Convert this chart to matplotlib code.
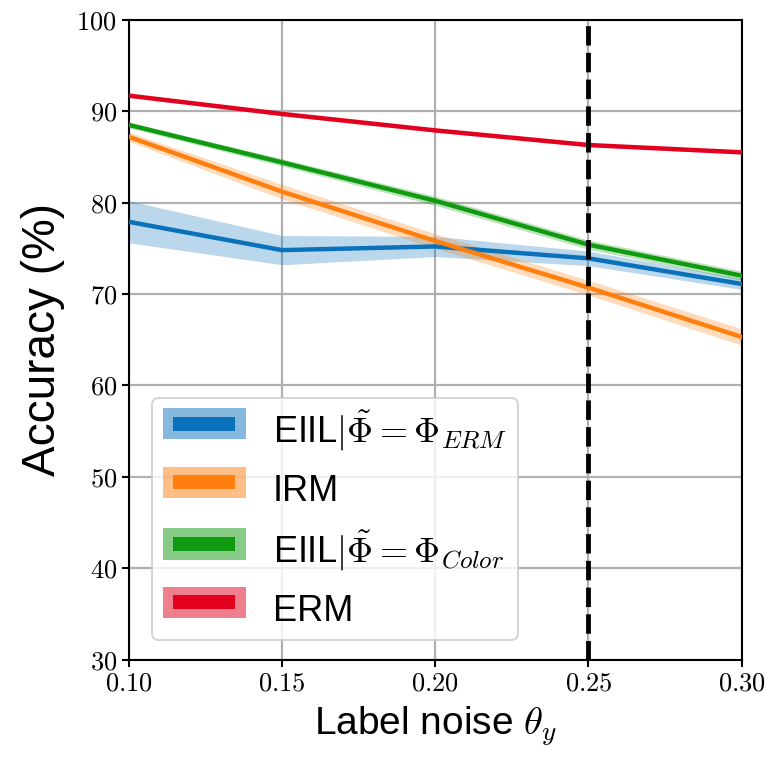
import numpy as np
import matplotlib
matplotlib.use("Agg")
import matplotlib.pyplot as plt
from matplotlib.patches import Rectangle

# ==== DATA ====
noise = [0.10, 0.15, 0.20, 0.25, 0.30]

eiil_erm = [77.9, 74.8, 75.2, 73.9, 71.1]
eiil_erm_sd = [2.3, 1.6, 1.1, 0.8, 0.6]

irm = [87.2, 81.2, 75.8, 70.7, 65.3]
irm_sd = [0.5, 0.8, 0.8, 0.8, 0.9]

eiil_color = [88.5, 84.4, 80.2, 75.4, 72.0]
eiil_color_sd = [0.3, 0.4, 0.5, 0.5, 0.5]

erm = [91.7, 89.7, 87.9, 86.3, 85.5]
erm_sd = [0.2, 0.2, 0.2, 0.2, 0.2]

labels = [
    r"EIIL$|\tilde{\Phi}=\Phi_{ERM}$",
    "IRM",
    r"EIIL$|\tilde{\Phi}=\Phi_{Color}$",
    "ERM",
]
colors = ["#0a72ba", "#ff7f0e", "#0f9a0f", "#e3001f"]

xticks = [0.10, 0.15, 0.20, 0.25, 0.30]
yticks = [30, 40, 50, 60, 70, 80, 90, 100]


# legend handle: light band box with a solid bar inside
class BandHandle:
    def __init__(self, color):
        self.color = color


class BandHandler:
    def legend_artist(self, legend, orig_handle, fontsize, handlebox):
        x0, y0 = handlebox.xdescent, handlebox.ydescent
        w, h = handlebox.width, handlebox.height
        outer = Rectangle((x0, y0), w, h, facecolor=orig_handle.color,
                          alpha=0.5, edgecolor="none",
                          transform=handlebox.get_transform())
        inner = Rectangle((x0 + 0.13 * w, y0 + 0.27 * h), 0.74 * w, 0.46 * h,
                          facecolor=orig_handle.color, edgecolor="none",
                          transform=handlebox.get_transform())
        handlebox.add_artist(outer)
        handlebox.add_artist(inner)
        return outer


# ==== PLOT ====
plt.rcParams["mathtext.fontset"] = "cm"
plt.rcParams["font.family"] = ["Liberation Sans", "DejaVu Sans"]

fig = plt.figure(figsize=(7.71, 7.6), dpi=100)
ax = fig.add_axes([0.167, 0.132, 0.795, 0.842])

series = [
    (eiil_erm, eiil_erm_sd),
    (irm, irm_sd),
    (eiil_color, eiil_color_sd),
    (erm, erm_sd),
]
handles = []
for (mean, sd), col in zip(series, colors):
    m = np.array(mean)
    s = np.array(sd)
    ax.fill_between(noise, m - s, m + s, color=col, alpha=0.28, lw=0, zorder=2)
    ax.plot(noise, m, color=col, lw=3.2, zorder=3)
    handles.append(BandHandle(col))

ax.axvline(0.25, color="black", lw=3.5, ls=(0, (4, 1.5)), zorder=4)

ax.set_xlim(0.10, 0.30)
ax.set_ylim(30, 100)
ax.set_xticks(xticks)
ax.set_xticklabels([r"$%.2f$" % v for v in xticks])
ax.set_yticks(yticks)
ax.set_yticklabels([r"$%d$" % v for v in yticks])
ax.tick_params(labelsize=19, width=1.5, length=5)
ax.grid(True, color="#b0b0b0", lw=1.6)
ax.set_axisbelow(True)
for sp in ax.spines.values():
    sp.set_linewidth(1.5)

ax.set_xlabel(r"Label noise $\theta_y$", fontsize=28, labelpad=6)
ax.set_ylabel("Accuracy (%)", fontsize=33, labelpad=8)

leg = ax.legend(
    handles,
    labels,
    handler_map={BandHandle: BandHandler()},
    loc="lower left",
    bbox_to_anchor=(0.0375, 0.031),
    borderaxespad=0,
    fontsize=26,
    handlelength=2.3,
    handleheight=0.95,
    labelspacing=0.55,
    borderpad=0.3,
    handletextpad=0.75,
    framealpha=0.8,
    fancybox=True,
)
leg.get_frame().set_linewidth(1.5)

fig.savefig("out.png", dpi=100)
